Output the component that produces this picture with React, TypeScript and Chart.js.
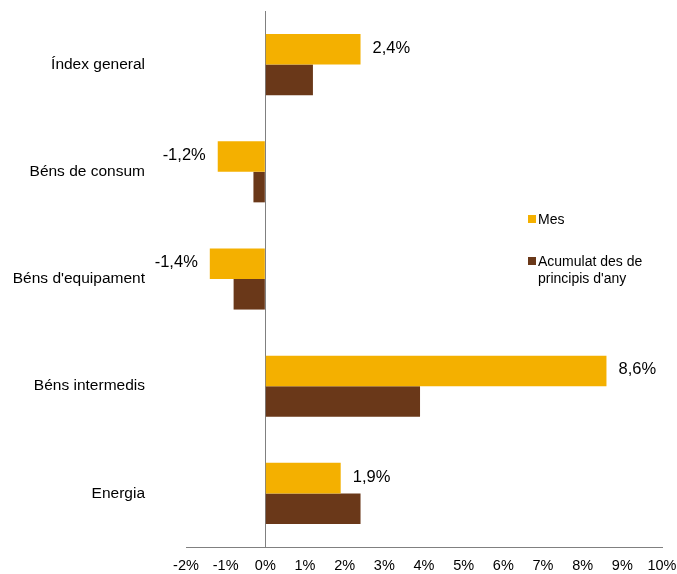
import React, { useEffect, useRef } from "react";
import { Chart, registerables } from "chart.js";

Chart.register(...registerables);

const categories = ["Índex general", "Béns de consum", "Béns d'equipament", "Béns intermedis", "Energia"];
const mesValues = [2.4, -1.2, -1.4, 8.6, 1.9];
const acumulatValues = [1.2, -0.3, -0.8, 3.9, 2.4];
const mesLabels = ["2,4%", "-1,2%", "-1,4%", "8,6%", "1,9%"];
const seriesNames = ["Mes", "Acumulat des de|principis d'any"];
const xTicks = [-2, -1, 0, 1, 2, 3, 4, 5, 6, 7, 8, 9, 10];

const MES_COLOR = "#F4B000";
const ACU_COLOR = "#6A3819";
const FONT = "'Liberation Sans', Arial, sans-serif";

const labelPlugin = {
  id: "mesLabels",
  afterDatasetsDraw(chart: any) {
    const ctx = chart.ctx;
    const meta = chart.getDatasetMeta(0);
    ctx.save();
    ctx.font = `16.5px ${FONT}`;
    ctx.fillStyle = "#000";
    ctx.textBaseline = "middle";
    meta.data.forEach((bar: any, i: number) => {
      const v = mesValues[i];
      if (v >= 0) {
        ctx.textAlign = "left";
        ctx.fillText(mesLabels[i], bar.x + 12, bar.y - 1);
      } else {
        ctx.textAlign = "right";
        ctx.fillText(mesLabels[i], bar.x - 12, bar.y - 1);
      }
    });
    // legend
    ctx.font = `14px ${FONT}`;
    ctx.textAlign = "left";
    const lx = 528;
    const items = [
      { color: MES_COLOR, y: 220 },
      { color: ACU_COLOR, y: 262 },
    ];
    items.forEach((it, i) => {
      ctx.fillStyle = it.color;
      ctx.fillRect(lx, it.y - 5, 8, 8);
      ctx.fillStyle = "#000";
      const lines = seriesNames[i].split("|");
      lines.forEach((ln, j) => {
        ctx.fillText(ln, lx + 10, it.y + j * 17);
      });
    });
    ctx.restore();
  },
};

export default function App() {
  const ref = useRef<HTMLCanvasElement | null>(null);
  useEffect(() => {
    if (!ref.current) return;
    const chart = new Chart(ref.current, {
      type: "bar",
      data: {
        labels: categories,
        datasets: [
          {
            label: "Mes",
            data: mesValues,
            backgroundColor: MES_COLOR,
            categoryPercentage: 0.57,
            barPercentage: 1,
          },
          {
            label: "Acumulat des de principis d'any",
            data: acumulatValues,
            backgroundColor: ACU_COLOR,
            categoryPercentage: 0.57,
            barPercentage: 1,
          },
        ],
      },
      options: {
        indexAxis: "y",
        animation: false,
        responsive: true,
        maintainAspectRatio: false,
        layout: { padding: { top: 11, right: 15, left: 0, bottom: 0 } },
        plugins: {
          legend: { display: false },
          tooltip: { enabled: false },
        },
        scales: {
          x: {
            min: -2,
            max: 10,
            afterBuildTicks: (scale: any) => {
              scale.ticks = xTicks.map((v) => ({ value: v }));
            },
            afterFit: (scale: any) => {
              scale.height = 27;
              scale.paddingLeft = 0;
              scale.paddingRight = 0;
            },
            ticks: {
              callback: (v: any) => `${v}%`,
              color: "#000",
              font: { family: FONT, size: 14.5 },
              padding: 10,
              autoSkip: false,
              maxRotation: 0,
            },
            grid: {
              drawTicks: false,
              color: (c: any) => (c.tick && c.tick.value === 0 ? "#808080" : "transparent"),
              lineWidth: 1,
            },
            border: { display: true, color: "#808080", width: 1 },
          },
          y: {
            afterFit: (scale: any) => {
              scale.width = 186;
              scale.paddingTop = 0;
              scale.paddingBottom = 0;
            },
            ticks: {
              color: "#000",
              font: { family: FONT, size: 15.5 },
              padding: 41,
            },
            grid: { display: false, drawTicks: false },
            border: { display: false },
          },
        },
      },
      plugins: [labelPlugin],
    });
    return () => chart.destroy();
  }, []);
  return (
    <div style={{ position: "fixed", left: 0, top: 0, width: 677, height: 574, background: "#fff" }}>
      <canvas ref={ref} />
    </div>
  );
}
